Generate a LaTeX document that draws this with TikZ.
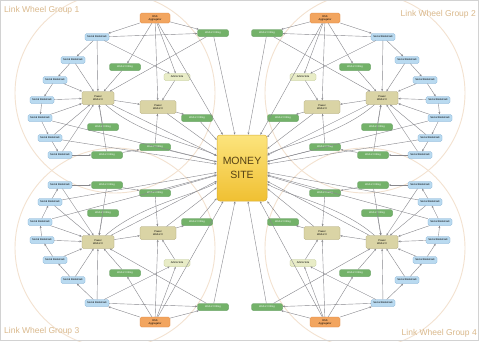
\documentclass[tikz,border=0pt]{standalone}
\usepackage{fontspec}
\setmainfont{Liberation Sans}
\usetikzlibrary{arrows.meta}
\definecolor{orfill}{RGB}{242,165,95}
\definecolor{ordraw}{RGB}{220,130,60}
\definecolor{grfill}{RGB}{115,178,105}
\definecolor{grdraw}{RGB}{75,140,70}
\definecolor{blfill}{RGB}{185,218,240}
\definecolor{bldraw}{RGB}{125,172,210}
\definecolor{tnfill}{RGB}{218,212,165}
\definecolor{tndraw}{RGB}{170,160,110}
\definecolor{plfill}{RGB}{232,236,198}
\definecolor{pldraw}{RGB}{185,195,140}
\definecolor{lkcol}{RGB}{135,135,140}
\definecolor{whcol}{RGB}{243,226,208}
\definecolor{glcol}{RGB}{218,185,140}
\definecolor{mnytop}{RGB}{252,228,125}
\definecolor{mnybot}{RGB}{240,192,50}
\definecolor{mnydraw}{RGB}{215,175,60}
\definecolor{mnytext}{RGB}{85,65,20}
\tikzset{
  box/.style={rectangle, rounded corners=1.5pt, inner sep=0.3pt, align=center,
    font=\fontsize{2.6}{3}\selectfont, line width=0.3pt},
  orangebox/.style={box, fill=orfill, draw=ordraw, minimum width=30pt, minimum height=10pt},
  greenbox/.style={box, fill=grfill, draw=grdraw, minimum width=31pt, minimum height=7pt, text=white},
  bluebox/.style={box, fill=blfill, draw=bldraw, minimum width=24pt, minimum height=7pt},
  tanbox/.style={box, fill=tnfill, draw=tndraw, minimum width=32pt, minimum height=13pt},
  palebox/.style={box, fill=plfill, draw=pldraw, minimum width=26pt, minimum height=7pt},
  moneybox/.style={rectangle, rounded corners=3pt, top color=mnytop, bottom color=mnybot,
    draw=mnydraw, line width=0.5pt, minimum width=50pt, minimum height=66pt, align=center,
    font=\fontsize{10.5}{14}\selectfont, text=mnytext},
  link/.style={draw=lkcol, line width=0.4pt, -{Stealth[length=2.4pt,width=1.9pt]}},
  wheel/.style={draw=whcol, line width=0.9pt},
  grouplabel/.style={font=\fontsize{8.5}{10}\selectfont, text=glcol, inner sep=0pt},
}
\newcommand{\wheelgroup}[3]{%
\begin{scope}[shift={(240,170)},xscale=#2,yscale=#3]
  \node[orangebox] (#1O) at (-85,-152) {RSS\\Aggregator};
  \node[greenbox] (#1G1) at (-27,-137) {Web 2.0 Blog};
  \node[bluebox] (#1B1) at (-143,-133) {Social Bookmark};
  \node[bluebox] (#1B2) at (-167,-110) {Social Bookmark};
  \node[bluebox] (#1B3) at (-185,-90) {Social Bookmark};
  \node[bluebox] (#1B4) at (-198,-70) {Social Bookmark};
  \node[bluebox] (#1B5) at (-200,-52) {Social Bookmark};
  \node[bluebox] (#1B6) at (-190,-32) {Social Bookmark};
  \node[bluebox] (#1B7) at (-180,-15) {Social Bookmark};
  \node[greenbox] (#1G2) at (-115,-103) {Web 2.0 Blog};
  \node[palebox] (#1P) at (-63,-93) {Article Site};
  \node[tanbox] (#1T1) at (-142,-72) {Power\\Web 2.0};
  \node[tanbox, minimum width=36pt] (#1T2) at (-82,-63) {Power\\Web 2.0};
  \node[greenbox] (#1G3) at (-137,-43) {Web 2.0 Blog};
  \node[greenbox] (#1G4) at (-43,-52) {Web 2.0 Blog};
  \node[greenbox] (#1G5) at (-85,-23) {Web 2.0 Blog};
  \node[greenbox] (#1G6) at (-133,-15) {Web 2.0 Blog};
  \draw[link] (#1O) -- (#1G1);
  \draw[link] (#1O) -- (#1B1);
  \draw[link] (#1O) -- (#1G2);
  \draw[link] (#1O) -- (#1T2);
  \draw[link] (#1O) -- (#1P);
  \draw[link] (#1O) -- (M);
  \draw[link] (#1G1) -- (M);
  \draw[link] (#1B1) -- (#1G1);
  \draw[link] (#1B1) -- (#1P);
  \draw[link] (#1B1) -- (#1T1);
  \draw[link] (#1B1) -- (#1B2);
  \draw[link] (#1B2) -- (#1B3);
  \draw[link] (#1B3) -- (#1B4);
  \draw[link] (#1B4) -- (#1B5);
  \draw[link] (#1B5) -- (#1B6);
  \draw[link] (#1B6) -- (#1B7);
  \draw[link] (#1B2) -- (#1T1);
  \draw[link] (#1B3) -- (#1T1);
  \draw[link] (#1B4) -- (#1T1);
  \draw[link] (#1B5) -- (#1T1);
  \draw[link] (#1B6) -- (#1T1);
  \draw[link] (#1B7) -- (#1T1);
  \draw[link] (#1B7) -- (#1G6);
  \draw[link] (#1G6) -- (#1G5);
  \draw[link] (#1G5) -- (M);
  \draw[link] (#1G6) -- (#1T1);
  \draw[link] (#1G3) -- (#1T1);
  \draw[link] (#1T1) -- (#1T2);
  \draw[link] (#1T2) -- (M);
  \draw[link] (#1T1) -- (M);
  \draw[link] (#1T2) -- (#1G4);
  \draw[link] (#1G4) -- (M);
  \draw[link] (#1G2) -- (#1T1);
  \draw[link] (#1P) -- (#1T2);
  \draw[link] (#1G5) -- (#1T2);
  \draw[link] (#1G1) -- (#1T1);
  \draw[link] (#1B5) -- (M);
  \draw[link] (#1B6) -- (M);
  \draw[link] (#1T1) .. controls (-100,-35) and (-45,-25) .. (M);
\end{scope}}
\begin{document}
\begin{tikzpicture}[x=1pt,y=-1pt]
  \useasboundingbox (0,0) rectangle (479,341);
  \fill[white] (0,0) rectangle (479,341);
  \draw[wheel] (115,93) circle[radius=100];
  \draw[wheel] (365,93) circle[radius=100];
  \draw[wheel] (115,248) circle[radius=100];
  \draw[wheel] (365,248) circle[radius=100];
  \node[moneybox] (M) at (242,168) {MONEY\\SITE};
  \wheelgroup{a}{1}{1}
  \wheelgroup{b}{-1}{1}
  \wheelgroup{c}{1}{-1}
  \wheelgroup{d}{-1}{-1}
  \node[grouplabel, anchor=west] (L1) at (4,10) {Link Wheel Group 1};
  \node[grouplabel, anchor=east] (L2) at (476,14) {Link Wheel Group 2};
  \node[grouplabel, anchor=west] (L3) at (4,331) {Link Wheel Group 3};
  \node[grouplabel, anchor=east] (L4) at (477,333) {Link Wheel Group 4};
  \draw[gray!35, line width=0.6pt] (0.3,0.3) rectangle (478.7,340.7);
\end{tikzpicture}
\end{document}
